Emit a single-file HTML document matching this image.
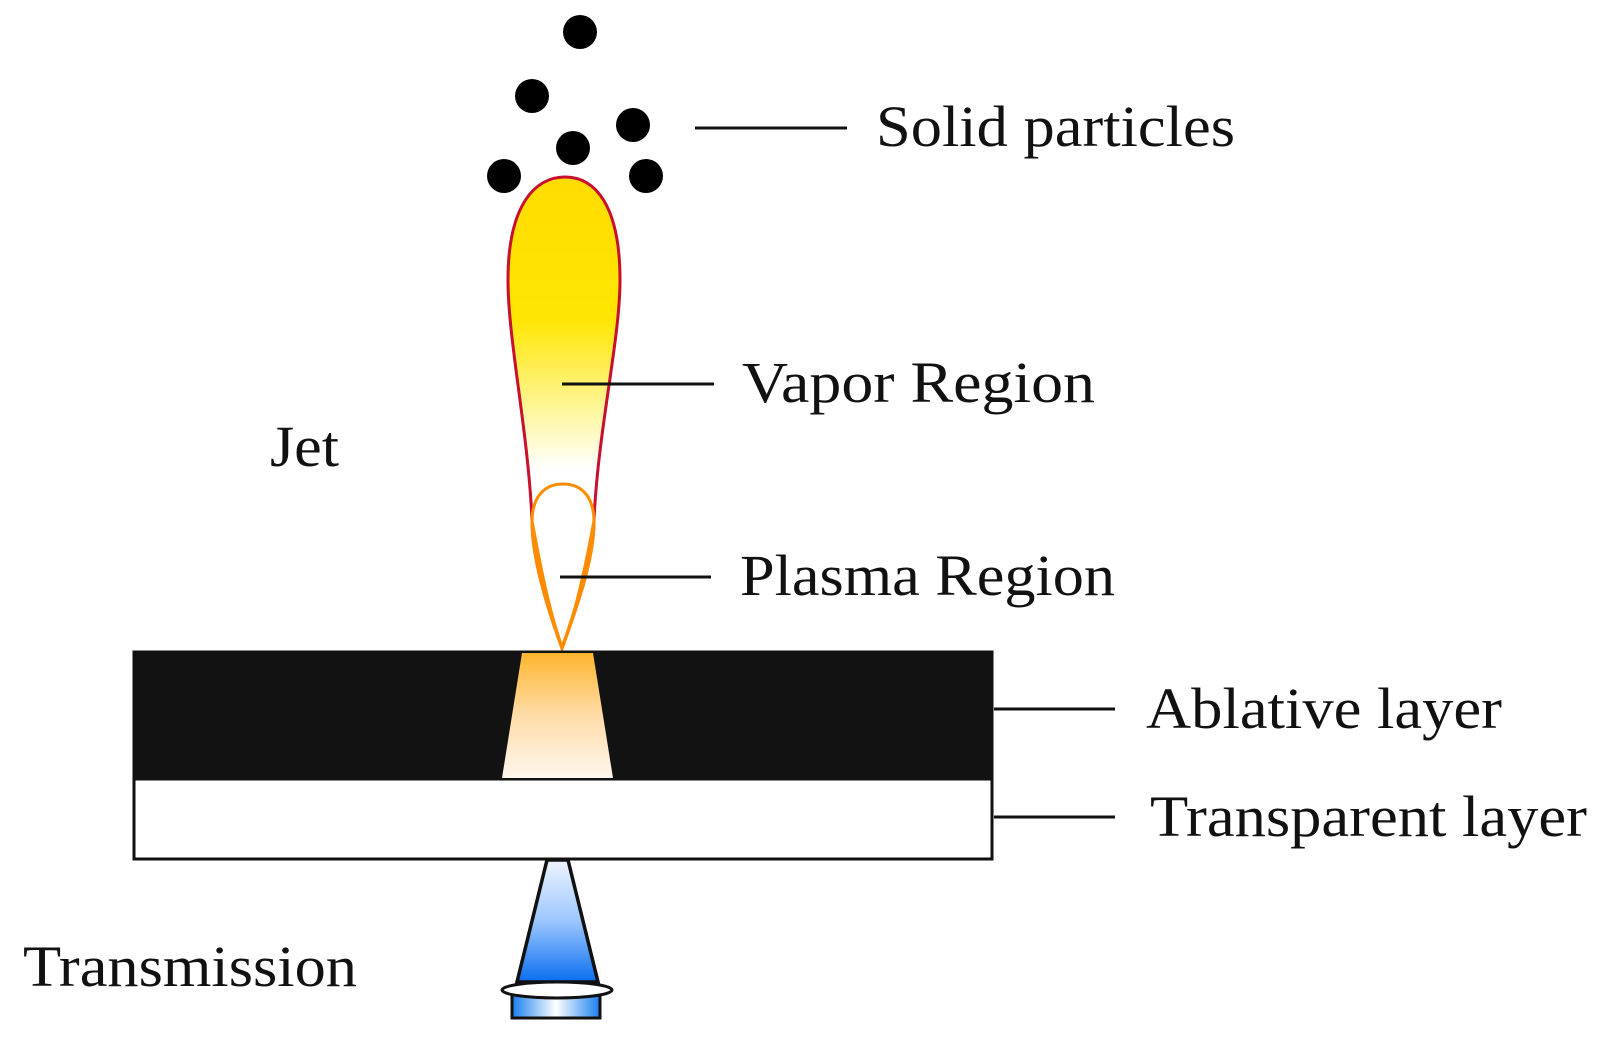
<!DOCTYPE html>
<html><head><meta charset="utf-8"><style>
html,body{margin:0;padding:0;background:#fff;}
svg{display:block;}
text{font-family:"Liberation Serif",serif;font-size:58px;fill:#111;}
</style></head><body>
<svg width="1606" height="1037" viewBox="0 0 1606 1037" xmlns="http://www.w3.org/2000/svg">
<defs>
<linearGradient id="jet" x1="0" y1="0" x2="0" y2="1">
<stop offset="0" stop-color="#ffdc00"/>
<stop offset="0.3" stop-color="#ffe600"/>
<stop offset="0.62" stop-color="#ffffff"/>
<stop offset="1" stop-color="#ffffff"/>
</linearGradient>
<linearGradient id="trap" x1="0" y1="0" x2="0" y2="1">
<stop offset="0" stop-color="#ffb52e"/>
<stop offset="0.5" stop-color="#ffdca8"/>
<stop offset="1" stop-color="#fff6ee"/>
</linearGradient>
<linearGradient id="blue" x1="0" y1="0" x2="0" y2="1">
<stop offset="0" stop-color="#eef4ff"/>
<stop offset="0.5" stop-color="#9cc6ff"/>
<stop offset="1" stop-color="#0a6ef0"/>
</linearGradient>
<linearGradient id="blue2" x1="0" y1="0" x2="1" y2="0">
<stop offset="0" stop-color="#1a7ff0"/>
<stop offset="0.5" stop-color="#ffffff"/>
<stop offset="1" stop-color="#1a7ff0"/>
</linearGradient>
</defs>
<g fill="#000">
<circle cx="580" cy="32" r="17"/>
<circle cx="532" cy="96" r="17"/>
<circle cx="633" cy="125" r="17"/>
<circle cx="573" cy="148" r="17"/>
<circle cx="504" cy="176" r="17"/>
<circle cx="646" cy="176" r="17"/>
</g>
<path d="M562,648 C548,610 532,560 532,520 C528,430 508,340 508,280 C508,205 535,177 565,177 C595,177 620,205 620,280 C620,340 598,430 594,520 C594,560 576,610 562,648 Z" fill="url(#jet)" stroke="#c8102e" stroke-width="3"/>
<path d="M562,648 C548,610 532,560 532,522 C532,496 545,484 563,484 C581,484 594,496 594,522 C594,560 576,610 562,648 Z" fill="none" stroke="#ff8c00" stroke-width="3"/>
<path d="M532,522 C548,610 556,630 562,648 C568,630 578,610 594,522" fill="none" stroke="#ff8c00" stroke-width="3.5"/>
<rect x="134" y="652" width="858" height="127" fill="#121212" stroke="#111" stroke-width="3"/>
<rect x="134" y="779" width="858" height="80" fill="#fff" stroke="#111" stroke-width="3"/>
<path d="M522,653 L593,653 L613,778 L502,778 Z" fill="url(#trap)"/>
<rect x="512" y="994" width="88" height="24" fill="url(#blue2)" stroke="#111" stroke-width="3"/>
<path d="M547,860 L568,860 L598,982 L517,982 Z" fill="url(#blue)" stroke="#111" stroke-width="3.5"/>
<ellipse cx="557" cy="990" rx="55" ry="8" fill="#fff" stroke="#111" stroke-width="3"/>
<g stroke="#111" stroke-width="3">
<line x1="695" y1="128" x2="847" y2="128"/>
<line x1="562" y1="384" x2="714" y2="384"/>
<line x1="560" y1="577" x2="711" y2="577"/>
<line x1="994" y1="709" x2="1115" y2="709"/>
<line x1="994" y1="817" x2="1115" y2="817"/>
</g>
<text x="876" y="146" textLength="359" lengthAdjust="spacingAndGlyphs">Solid particles</text>
<text x="742" y="402" textLength="353" lengthAdjust="spacingAndGlyphs">Vapor Region</text>
<text x="740" y="595" textLength="375" lengthAdjust="spacingAndGlyphs">Plasma Region</text>
<text x="1146" y="728" textLength="356" lengthAdjust="spacingAndGlyphs">Ablative layer</text>
<text x="1150" y="836" textLength="437" lengthAdjust="spacingAndGlyphs">Transparent layer</text>
<text x="270" y="466" textLength="69" lengthAdjust="spacingAndGlyphs">Jet</text>
<text x="23" y="986" textLength="334" lengthAdjust="spacingAndGlyphs">Transmission</text>
</svg>
</body></html>
